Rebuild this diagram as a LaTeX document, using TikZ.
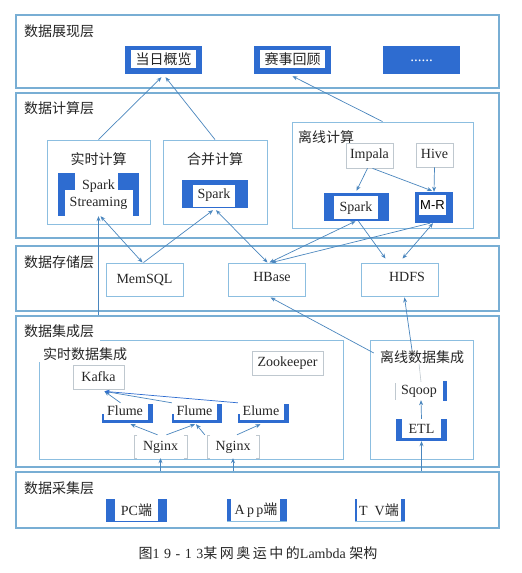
\documentclass[tikz,border=0pt]{standalone}
\usepackage{fontspec}
\setmainfont{Liberation Serif}
\newfontfamily\cjk{Noto Sans CJK SC}
\newfontfamily\arialf{Liberation Sans}
\usetikzlibrary{arrows.meta,fit}
\definecolor{bluec}{HTML}{2E6CD0}
\definecolor{layerc}{HTML}{78AED4}
\definecolor{boxc}{HTML}{8CBEE0}
\definecolor{arrc}{HTML}{4A86BE}
\definecolor{grayc}{HTML}{BFC8CF}
\definecolor{txtc}{HTML}{262626}
\begin{document}
\begin{tikzpicture}[x=1pt,y=-1pt,
  layer/.style={draw=layerc, line width=1.1pt, inner sep=0pt},
  inbox/.style={draw=boxc, line width=0.9pt, inner sep=0pt},
  geo/.style={inner sep=0pt},
  gbox/.style={draw=grayc, line width=0.7pt, inner sep=0pt},
  lab/.style={anchor=west, inner sep=0pt, text=txtc, font=\cjk\fontsize{14}{16}\selectfont},
  t/.style={inner sep=0pt, text=txtc, font=\fontsize{14}{17}\selectfont},
  tc/.style={inner sep=0pt, text=txtc, font=\cjk\fontsize{14}{16}\selectfont},
  arr/.style={draw=arrc, line width=0.7pt, -{Stealth[length=5pt,width=4pt]}},
  arr2/.style={draw=arrc, line width=0.7pt, {Stealth[length=5pt,width=4pt]}-{Stealth[length=5pt,width=4pt]}},
  arrb/.style={draw=arrc, line width=0.7pt, -{Stealth[length=5pt,width=4pt,fill=bluec]}}
]
\useasboundingbox (0,0) rectangle (522,573);
\fill[white] (0,0) rectangle (522,573);

% ---------------- layers ----------------
\node[layer, fit={(16,15)(499,88)}] (L1) {};
\node[lab] (L1t) at (24,31) {数据展现层};
\node[layer, fit={(16,93)(499,238)}] (L2) {};
\node[lab] (L2t) at (24,108) {数据计算层};
\node[layer, fit={(16,246)(499,311)}] (L3) {};
\node[lab] (L3t) at (24,262) {数据存储层};
\node[layer, fit={(16,316)(499,467)}] (L4) {};
\node[lab] (L4t) at (24,331) {数据集成层};
\node[layer, fit={(16,472)(499,528)}] (L5) {};
\node[lab] (L5t) at (24,488) {数据采集层};

% ---------------- presentation layer ----------------
\fill[bluec] (125,46) rectangle (202,74);
\fill[white] (131,50) rectangle (196,68);
\node[geo, fit={(125,46)(202,74)}] (dr) {};
\node[tc] (drt) at (163.5,59) {当日概览};

\fill[bluec] (254,46) rectangle (331,74);
\fill[white] (260,50) rectangle (325,68);
\node[geo, fit={(254,46)(331,74)}] (ss) {};
\node[tc] (sst) at (292.5,59) {赛事回顾};

\fill[bluec] (383,46) rectangle (460,74);
\node[geo, fit={(383,46)(460,74)}] (more) {};
\node[inner sep=0pt, text=white, font=\fontsize{15}{16}\selectfont] (moret) at (421.5,61) {......};

% ---------------- computation layer ----------------
\node[inbox, fit={(47,140)(150,224)}] (rt) {};
\node[tc] (rtt) at (98.5,159) {实时计算};
\node[inbox, fit={(163,140)(267,224)}] (hb) {};
\node[tc] (hbt) at (215,159) {合并计算};
\node[inbox, fit={(292,122)(473,228)}] (lx) {};
\node[lab] (lxt) at (298,137) {离线计算};

% Spark Streaming
\fill[bluec] (58,173) rectangle (139,216);
\fill[white] (65,190) rectangle (133,216);
\fill[white] (75,173) rectangle (118,190);
\node[geo, fit={(58,173)(139,216)}] (sstr) {};
\node[t, align=center] (sstrt) at (98.5,195) {Spark\\Streaming};

% merged Spark
\fill[bluec] (182,180) rectangle (248,208);
\fill[white] (193,185) rectangle (235,207);
\node[geo, fit={(182,180)(248,208)}] (hsp) {};
\node[t] (hspt) at (214,195) {Spark};

% offline
\node[gbox, fit={(346,143)(393,168)}] (imp) {};
\node[t] (impt) at (369.5,155) {Impala};
\node[gbox, fit={(416,143)(453,167)}] (hive) {};
\node[t] (hivet) at (434.5,154) {Hive};

\fill[bluec] (324,193) rectangle (389,221);
\fill[white] (334,196) rectangle (378,219);
\node[geo, fit={(324,193)(389,221)}] (osp) {};
\node[t] (ospt) at (356,208) {Spark};

\fill[bluec] (415,192) rectangle (453,223);
\fill[white] (419,195) rectangle (446,215);
\node[geo, fit={(415,192)(453,223)}] (mr) {};
\node[inner sep=0pt, text=black, font=\arialf\fontsize{13}{15}\selectfont] (mrt) at (432.5,205) {M-R};

% ---------------- storage layer ----------------
\node[inbox, fit={(106,263)(183,296)}] (mem) {};
\node[t] (memt) at (144.5,280) {MemSQL};
\node[inbox, fit={(228,263)(305,296)}] (hbase) {};
\node[t] (hbaset) at (272,277) {HBase};
\node[inbox, fit={(361,263)(438,296)}] (hdfs) {};
\node[t] (hdfst) at (407,277) {HDFS};

% ---------------- integration layer ----------------
\draw[draw=boxc, line width=0.9pt] (100,340) -- (343,340) -- (343,459) -- (39,459) -- (39,362);
\node[geo, fit={(39,340)(343,459)}] (rti) {};
\node[lab] (rtit) at (43,354) {实时数据集成};
\node[inbox, fit={(370,340)(473,459)}] (lxi) {};
\node[tc] (lxit) at (422,357) {离线数据集成};

\node[gbox, fit={(252,351)(323,375)}] (zk) {};
\node[t] (zkt) at (287.5,363) {Zookeeper};
\node[gbox, fit={(73,365)(124,389)}] (kafka) {};
\node[t] (kafkat) at (98.5,377) {Kafka};

\foreach \a/\b in {102/153,172/222,238/289}{
  \fill[bluec] (\a,420) rectangle (\b,423);
  \fill[bluec] (\b-5,404) rectangle (\b,423);
  \fill[bluec] (\a,414) rectangle (\a+2,423);
}
\node[geo, fit={(102,403)(153,423)}] (f1) {};
\node[t] (f1t) at (125,411) {Flume};
\node[geo, fit={(172,403)(222,423)}] (f2) {};
\node[t] (f2t) at (194.5,411) {Flume};
\node[geo, fit={(238,403)(289,423)}] (f3) {};
\node[t] (f3t) at (261,411) {Elume};

\foreach \a/\b in {134/187,207/259}{
  \draw[grayc, line width=0.8pt] (\a+3,435) -- (\a,435) -- (\a,458) -- (\a+3,458);
  \draw[grayc, line width=0.8pt] (\b-3,435) -- (\b,435) -- (\b,458) -- (\b-3,458);
}
\node[geo, fit={(134,435)(187,458)}] (n1) {};
\node[t] (n1t) at (160.5,447) {Nginx};
\node[geo, fit={(207,435)(259,458)}] (n2) {};
\node[t] (n2t) at (233,447) {Nginx};

\fill[bluec] (443,381) rectangle (447,401);
\draw[grayc, line width=0.7pt] (395,383) -- (395,400);
\node[geo, fit={(395,382)(447,400)}] (sqoop) {};
\node[t] (sqoopt) at (419,391) {Sqoop};

\fill[bluec] (396,419) rectangle (402,441);
\fill[bluec] (441,419) rectangle (447,441);
\fill[bluec] (396,438) rectangle (447,441);
\node[geo, fit={(396,419)(447,441)}] (etl) {};
\node[t] (etlt) at (421.5,429) {ETL};

% ---------------- collection layer ----------------
\fill[bluec] (106,499) rectangle (115,522);
\fill[bluec] (158,499) rectangle (167,522);
\fill[bluec] (106,520.5) rectangle (167,522);
\node[geo, fit={(106,499)(167,522)}] (pc) {};
\node[t] (pct) at (136.5,510) {PC{\cjk 端}};

\fill[bluec] (227,499) rectangle (231,522);
\fill[bluec] (280,499) rectangle (287,522);
\fill[boxc] (227,521) rectangle (287,522);
\node[geo, fit={(227,499)(287,522)}] (app) {};
\node[t] (appt) at (256,510) {A\,p\,p{\cjk 端}};

\fill[bluec] (355,499) rectangle (357,522);
\fill[bluec] (401,499) rectangle (405,522);
\fill[boxc] (355,521) rectangle (405,522);
\node[geo, fit={(355,499)(405,522)}] (tv) {};
\node[t] (tvt) at (379,510) {T\enspace V{\cjk 端}};

% caption
\node[inner sep=0pt, text=txtc, font=\fontsize{14}{16}\selectfont] (cap) at (258,553)
  {{\cjk 图}1\hspace{4.5pt}9\hspace{4.5pt}-\hspace{4.5pt}1\hspace{4.5pt}3{\cjk\addfontfeature{LetterSpace=18}某网奥运中的}Lambda\ {\cjk 架构}};

% ---------------- connectors ----------------
\draw[arr] (rt.north) -- ([shift={(-2,3)}]dr.south);
\draw[arr] (hb.north) -- ([shift={(2,3)}]dr.south);
\draw[arr] (lx.north) -- ([shift={(0,2)}]ss.south);

\coordinate (c1) at (sstr.south |- L4.north);
\draw[arr] (c1) -- (sstr.south);
\draw[arr2] ([xshift=2pt]sstr.south) -- ([xshift=-2pt]mem.north);
\draw[arr] ([xshift=-1pt]mem.north) -- ([shift={(-2,2)}]hsp.south);
\draw[arr2] ([shift={(1,2)}]hsp.south) -- ([xshift=1pt]hbase.north);
\draw[arr2] ([xshift=-1pt]osp.south) -- ([xshift=3pt]hbase.north);
\draw[arr] ([xshift=-4pt]mr.south) -- ([xshift=5pt]hbase.north);
\draw[arr] ([xshift=2pt]osp.south) -- ([shift={(-14,-4)}]hdfs.north);
\draw[arr2] ([xshift=-1pt]mr.south) -- ([shift={(3,-4)}]hdfs.north);
\draw[arr] ([xshift=-2pt]imp.south) -- ([shift={(0,-2)}]osp.north);
\draw[arr] ([xshift=3pt]imp.south) -- ([shift={(-2,-1)}]mr.north);
\draw[arr] (hive.south) -- (mr.north);

\draw[arr] ([shift={(-6,-4)}]lxit.west) -- ([shift={(4,1)}]hbase.south);
\draw[arr] ([xshift=-10pt]lxit.north) -- ([shift={(5,1)}]hdfs.south);
\draw[grayc, line width=0.6pt] (sqoop.north) -- ([xshift=-3pt]lxit.south);
\draw[arr] (etl.north) -- (sqoop.south);

\draw[arrb] ([xshift=-7pt]f1.north) -- ([shift={(6,2)}]kafka.south);
\draw[arrb] (f2.north west) -- ([shift={(6,2)}]kafka.south);
\draw[arrb, draw=bluec] (f3.north west) -- ([shift={(6,2)}]kafka.south);
\draw[arrb] ([xshift=-3pt]n1.north) -- ([shift={(3,1)}]f1.south);
\draw[arrb] ([xshift=6pt]n1.north) -- ([shift={(-2,1)}]f2.south);
\draw[arrb] ([xshift=-2pt]n2.north west) -- ([shift={(-1,1)}]f2.south);
\draw[arrb] ([xshift=4pt]n2.north) -- ([shift={(-3,1)}]f3.south);

\draw[arr] (n1.south |- L5.north) -- (n1.south);
\draw[arr] (n2.south |- L5.north) -- (n2.south);
\draw[arr] (etl.south |- L5.north) -- (etl.south);
\end{tikzpicture}
\end{document}
